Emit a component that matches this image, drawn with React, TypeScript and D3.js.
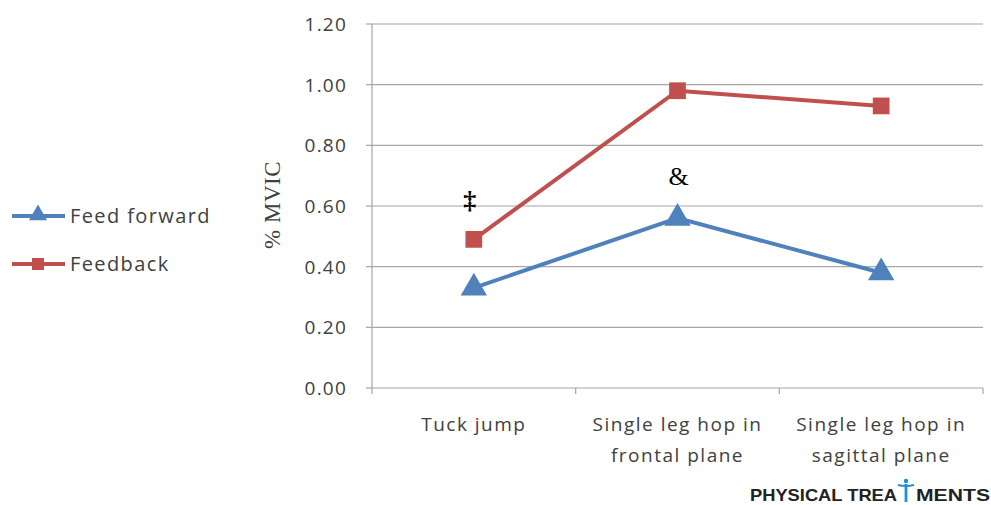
import React from "react";
import * as d3 from "d3";

const categories = ["Tuck jump", "Single leg hop in frontal plane", "Single leg hop in sagittal plane"];
const categoryLines = [["Tuck jump"], ["Single leg hop in", "frontal plane"], ["Single leg hop in", "sagittal plane"]];
const feedForward = [0.33, 0.56, 0.38];
const feedback = [0.49, 0.98, 0.93];
const yTicks = [0, 0.2, 0.4, 0.6, 0.8, 1.0, 1.2];
const annotations = [
  { cat: 0, value: 0.6, text: "‡", dx: -4 },
  { cat: 1, value: 0.68, text: "&", dx: 1 },
];

const W = 991;
const H = 505;
const left = 372;
const right = 983;
const top = 24;
const bottom = 388;
const BLUE = "#4f81bd";
const RED = "#c0504d";
const GRID = "#a6a6a6";
const FONT = "'Open Sans', 'Noto Sans', sans-serif";

export default function App() {
  const x = d3.scaleBand().domain(categories).range([left, right]);
  const y = d3.scaleLinear().domain([0, 1.2]).range([bottom, top]);
  const cx = (i: number) => (x(categories[i]) as number) + x.bandwidth() / 2;
  const line = d3
    .line<number>()
    .x((_, i) => cx(i))
    .y((d) => y(d));
  const tri = d3.symbol().type(d3.symbolTriangle).size(300)();
  const sq = d3.symbol().type(d3.symbolSquare).size(280)();
  const triSmall = d3.symbol().type(d3.symbolTriangle).size(140)();
  const sqSmall = d3.symbol().type(d3.symbolSquare).size(144)();
  const boundaries = [left, ...categories.map((c) => (x(c) as number) + x.bandwidth())];

  return (
    <svg width={W} height={H} style={{ position: "absolute", left: 0, top: 0, background: "#fff" }}>
      <rect width={W} height={H} fill="#fff" />
      {yTicks.map((t) => (
        <g key={t}>
          {t > 0 && <line x1={left} x2={right} y1={y(t)} y2={y(t)} stroke={GRID} strokeWidth={1.2} />}
          <line x1={left - 6} x2={left} y1={y(t)} y2={y(t)} stroke={GRID} strokeWidth={1.2} />
          <text x={347} y={y(t)} dy="0.36em" textAnchor="end" fontFamily={FONT} fontSize={19} letterSpacing={1.2} fill="#404040">
            {t.toFixed(2)}
          </text>
        </g>
      ))}
      <line x1={left} x2={left} y1={top} y2={bottom} stroke={GRID} strokeWidth={1.2} />
      <line x1={left} x2={right} y1={bottom} y2={bottom} stroke={GRID} strokeWidth={1.2} />
      {boundaries.map((b, i) => (
        <line key={i} x1={b} x2={b} y1={bottom} y2={bottom + 6} stroke={GRID} strokeWidth={1.2} />
      ))}
      {categoryLines.map((lines, i) => (
        <text key={i} x={cx(i)} y={431} textAnchor="middle" fontFamily={FONT} fontSize={19} letterSpacing={1.5} fill="#404040">
          {lines.map((l, j) => (
            <tspan key={j} x={cx(i)} dy={j === 0 ? 0 : 31}>
              {l}
            </tspan>
          ))}
        </text>
      ))}
      <text
        transform={`translate(280, ${205}) rotate(-90)`}
        textAnchor="middle"
        fontFamily="'Liberation Serif', 'DejaVu Serif', serif"
        fontSize={23}
        letterSpacing={0.5}
        fill="#404040"
      >
        % MVIC
      </text>
      <path d={line(feedback) as string} fill="none" stroke={RED} strokeWidth={4} />
      <path d={line(feedForward) as string} fill="none" stroke={BLUE} strokeWidth={4} />
      {feedback.map((v, i) => (
        <path key={i} d={sq as string} transform={`translate(${cx(i)},${y(v)})`} fill={RED} />
      ))}
      {feedForward.map((v, i) => (
        <path key={i} d={tri as string} transform={`translate(${cx(i)},${y(v)})`} fill={BLUE} />
      ))}
      {annotations.map((a, i) => (
        <text
          key={i}
          x={cx(a.cat) + a.dx}
          y={y(a.value) + 3}
          textAnchor="middle"
          fontFamily="'Liberation Serif', 'DejaVu Serif', serif"
          fontSize={26}
          fontWeight={i === 0 ? "bold" : "normal"}
          fill="#000"
        >
          {a.text}
        </text>
      ))}
      {/* Legend */}
      <g>
        <line x1={12} x2={65} y1={216} y2={216} stroke={BLUE} strokeWidth={4} />
        <path d={triSmall as string} transform="translate(38,215)" fill={BLUE} />
        <text x={70} y={216} dy="0.36em" fontFamily={FONT} fontSize={20} letterSpacing={1.4} fill="#404040">
          Feed forward
        </text>
        <line x1={12} x2={65} y1={264} y2={264} stroke={RED} strokeWidth={4} />
        <path d={sqSmall as string} transform="translate(38,264)" fill={RED} />
        <text x={70} y={264} dy="0.36em" fontFamily={FONT} fontSize={20} letterSpacing={1.4} fill="#404040">
          Feedback
        </text>
      </g>
      {/* Watermark */}
      <g fontFamily="'Liberation Sans', 'DejaVu Sans', sans-serif" fontWeight="bold" fontSize={17} fill="#222">
        <text x={750} y={501} textLength={147} lengthAdjust="spacingAndGlyphs">PHYSICAL TREA</text>
        <text x={916} y={501} textLength={74} lengthAdjust="spacingAndGlyphs">MENTS</text>
        <g transform="translate(906,491)" fill="#1e90d6" stroke="#1e90d6">
          <circle cx={0} cy={-10} r={2.2} stroke="none" />
          <path d="M-8,-6 Q0,-4 8,-6" fill="none" strokeWidth={2} />
          <line x1={0} x2={0} y1={-7} y2={11} strokeWidth={2.8} />
        </g>
      </g>
    </svg>
  );
}
